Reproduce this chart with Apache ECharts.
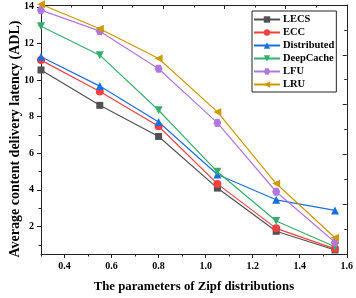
<!DOCTYPE html>
<html>
<head>
<meta charset="utf-8">
<script src="https://cdn.jsdelivr.net/npm/echarts@6/dist/echarts.min.js"></script>
<style>
    html, body { margin: 0; padding: 0; background: #fff; }
    #chart { width: 356px; height: 298px; }
</style>
</head>
<body>
<div id="chart"></div>
<script>
// Zipf parameter (x) and ADL per method
const zipf = [0.3, 0.55, 0.8, 1.05, 1.3, 1.55]
const lecs = [10.55, 8.62, 6.92, 4.1, 1.74, 0.72]
const ecc = [11.09, 9.38, 7.48, 4.33, 1.9, 0.78]
const distributed = [11.27, 9.67, 7.71, 4.84, 3.46, 2.88]
const deepCache = [12.94, 11.36, 8.35, 4.99, 2.3, 0.9]
const lfu = [13.82, 12.67, 10.62, 7.66, 3.9, 1.14]
const lru = [14.14, 12.8, 11.18, 8.26, 4.35, 1.39]

// tick labels
const xTicks = [0.4, 0.6, 0.8, 1.0, 1.2, 1.4, 1.6]
const xMinorTicks = [0.3, 0.5, 0.7, 0.9, 1.1, 1.3, 1.5]
const yTicks = [2, 4, 6, 8, 10, 12, 14]
const yMinorTicks = [1, 3, 5, 7, 9, 11, 13]

const font = '"Liberation Serif", "Times New Roman", serif'
const colors = ['#515151', '#F14040', '#1A6FDF', '#37AD6B', '#B177DE', '#CC9900']
const hexagon = 'path://M-1,0 L-0.5,-0.87 L0.5,-0.87 L1,0 L0.5,0.87 L-0.5,0.87 Z'

let chart = echarts.init(document.getElementById('chart'))

function mkSeries (name, data, symbol, rotate, size) {
    return {
        name: name,
        type: 'line',
        xAxisIndex: 0,
        yAxisIndex: 0,
        data: zipf.map((x, i) => [x, data[i]]),
        symbol: symbol,
        symbolRotate: rotate,
        symbolSize: size,
        clip: false,
        lineStyle: { width: 1.2 },
        z: 3
    }
}

chart.setOption({
    animation: false,
    color: colors,
    textStyle: { fontFamily: font },
    grid: {
        left: 41,
        right: 6,
        top: 5,
        bottom: 43
    },
    // y axis title, a bit below the plot centre like the original
    graphic: [
        {
            type: 'text',
            x: 15,
            y: 139,
            rotation: Math.PI / 2,
            style: {
                text: 'Average content delivery latency (ADL)',
                font: 'bold 14px ' + font,
                fill: '#000',
                align: 'center',
                verticalAlign: 'middle'
            }
        }
    ],
    legend: {
        orient: 'vertical',
        left: 252,
        top: 11,
        padding: [3, 2, 2, 1],
        itemWidth: 26,
        itemHeight: 8,
        itemGap: 2,
        borderColor: '#222',
        borderWidth: 1,
        backgroundColor: '#fff',
        textStyle: {
            fontFamily: font,
            fontWeight: 'bold',
            fontSize: 10.5,
            lineHeight: 11,
            color: '#000',
            padding: [0, 0, 0, -2]
        },
        data: ['LECS', 'ECC', 'Distributed', 'DeepCache', 'LFU', 'LRU']
    },
    xAxis: [
        {
            type: 'value',
            min: 0.3,
            max: 1.6,
            name: 'The parameters of Zipf distributions',
            nameLocation: 'middle',
            nameGap: 26,
            nameTextStyle: { fontFamily: font, fontWeight: 'bold', fontSize: 12.8, color: '#000' },
            axisLine: { lineStyle: { color: '#222', width: 1 } },
            axisTick: { customValues: xTicks, length: 4, lineStyle: { color: '#222' } },
            axisLabel: {
                customValues: xTicks,
                formatter: v => v.toFixed(1),
                margin: 7,
                fontFamily: font,
                fontWeight: 'bold',
                fontSize: 10,
                color: '#000'
            },
            splitLine: { show: false }
        },
        {
            // minor ticks on the bottom
            type: 'value',
            position: 'bottom',
            min: 0.3,
            max: 1.6,
            axisLine: { show: false },
            axisTick: { customValues: xMinorTicks, length: 2.5, lineStyle: { color: '#222' } },
            axisLabel: { show: false },
            splitLine: { show: false }
        },
        {
            // mirror axis on top
            type: 'value',
            position: 'top',
            min: 0,
            max: 10,
            interval: 2,
            axisLine: { show: true, lineStyle: { color: '#222', width: 1 } },
            axisTick: { inside: true, length: 4, lineStyle: { color: '#222' } },
            minorTick: { show: true, splitNumber: 2, length: 2.5, lineStyle: { color: '#222' } },
            axisLabel: { show: false },
            splitLine: { show: false }
        }
    ],
    yAxis: [
        {
            type: 'value',
            min: 0.5,
            max: 14.1,
            axisLine: { show: true, lineStyle: { color: '#222', width: 1 } },
            axisTick: { customValues: yTicks, length: 4, lineStyle: { color: '#222' } },
            axisLabel: {
                customValues: yTicks,
                margin: 7,
                fontFamily: font,
                fontWeight: 'bold',
                fontSize: 10,
                color: '#000'
            },
            splitLine: { show: false }
        },
        {
            // minor ticks on the left
            type: 'value',
            position: 'left',
            min: 0.5,
            max: 14.1,
            axisLine: { show: false },
            axisTick: { customValues: yMinorTicks, length: 2.5, lineStyle: { color: '#222' } },
            axisLabel: { show: false },
            splitLine: { show: false }
        },
        {
            // mirror axis on the right
            type: 'value',
            position: 'right',
            min: 0,
            max: 10,
            interval: 2,
            axisLine: { show: true, lineStyle: { color: '#222', width: 1 } },
            axisTick: { inside: true, length: 4, lineStyle: { color: '#222' } },
            minorTick: { show: true, splitNumber: 2, length: 2.5, lineStyle: { color: '#222' } },
            axisLabel: { show: false },
            splitLine: { show: false }
        }
    ],
    series: [
        mkSeries('LECS', lecs, 'rect', 0, 7),
        mkSeries('ECC', ecc, 'circle', 0, 8),
        mkSeries('Distributed', distributed, 'triangle', 0, 8),
        mkSeries('DeepCache', deepCache, 'triangle', 180, 8),
        mkSeries('LFU', lfu, hexagon, 0, 8),
        mkSeries('LRU', lru, 'triangle', 90, 8)
    ]
})
</script>
</body>
</html>
